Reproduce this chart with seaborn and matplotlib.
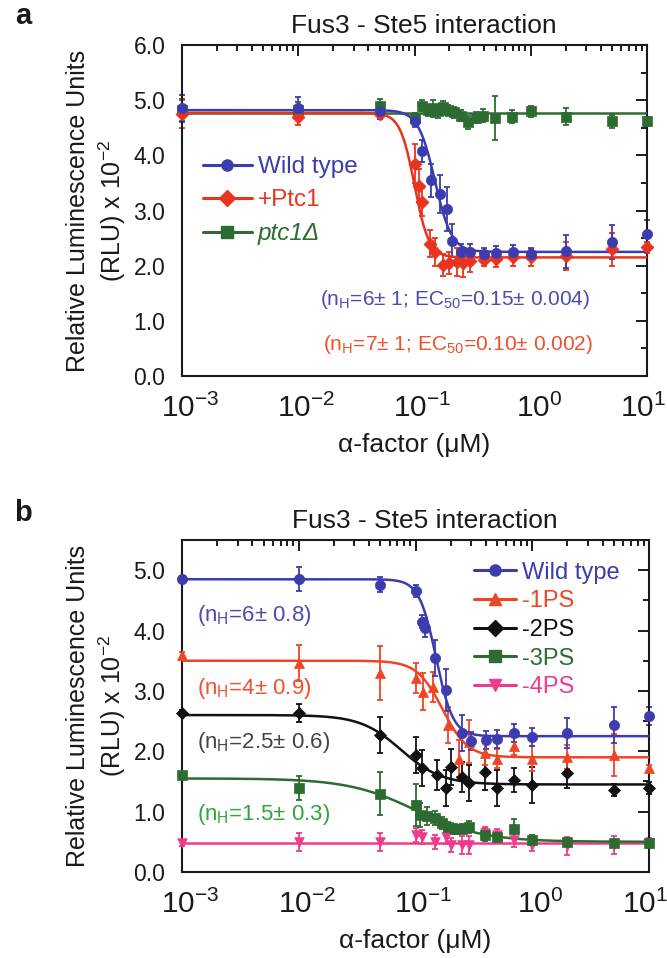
import numpy as np
import pandas as pd
import matplotlib
matplotlib.use("Agg")
import matplotlib.pyplot as plt
import matplotlib.transforms as mtransforms
import seaborn as sns
from matplotlib.lines import Line2D
from matplotlib.ticker import (AutoMinorLocator, LogLocator, NullFormatter,
                               FormatStrFormatter, MultipleLocator)

# ---------------------------------------------------------------- data
# Panel a: Fus3-Ste5 interaction, wild type / +Ptc1 / ptc1 deletion
a_wt_x = [0.001, 0.01, 0.05, 0.1, 0.115, 0.14, 0.165, 0.19, 0.21, 0.25, 0.3,
          0.4, 0.5, 0.7, 1.0, 2.0, 5.0, 10.0]
a_wt_y = [4.85, 4.85, 4.80, 4.62, 4.08, 3.55, 3.30, 3.02, 2.45, 2.25, 2.25,
          2.22, 2.23, 2.25, 2.22, 2.26, 2.43, 2.57]
a_wt_e = [0.25, 0.20, 0.15, 0.10, 0.20, 0.30, 0.35, 0.40, 0.30, 0.15, 0.15,
          0.10, 0.12, 0.12, 0.10, 0.30, 0.30, 0.25]

a_ptc_x = [0.001, 0.01, 0.05, 0.1, 0.11, 0.115, 0.135, 0.15, 0.175, 0.2, 0.23,
           0.26, 0.3, 0.4, 0.5, 0.7, 1.0, 2.0, 5.0, 10.0]
a_ptc_y = [4.75, 4.70, 4.75, 3.85, 3.45, 3.15, 2.40, 2.25, 2.02, 2.05, 2.07,
           2.05, 2.08, 2.10, 2.13, 2.15, 2.15, 2.18, 2.30, 2.33]
a_ptc_e = [0.25, 0.15, 0.10, 0.35, 0.30, 0.25, 0.25, 0.25, 0.20, 0.20, 0.25,
           0.25, 0.20, 0.10, 0.15, 0.15, 0.15, 0.25, 0.30, 0.10]

a_del_x = [0.001, 0.01, 0.05, 0.1, 0.115, 0.13, 0.145, 0.16, 0.175, 0.195,
           0.22, 0.25, 0.29, 0.34, 0.39, 0.49, 0.69, 1.0, 2.0, 5.0, 10.0]
a_del_y = [4.82, 4.82, 4.90, 4.68, 4.90, 4.82, 4.85, 4.80, 4.88, 4.82,
           4.78, 4.72, 4.60, 4.68, 4.72, 4.68, 4.70, 4.80, 4.70, 4.62, 4.62]
a_del_e = [0.20, 0.15, 0.12, 0.08, 0.10, 0.10, 0.15, 0.12, 0.10, 0.10,
           0.10, 0.10, 0.12, 0.10, 0.12, 0.40, 0.12, 0.10, 0.15, 0.12, 0.08]

# Hill fits (top, bottom, EC50, nH)
a_wt_fit = (4.82, 2.25, 0.15, 6)
a_ptc_fit = (4.77, 2.15, 0.10, 7)
a_del_fit = (4.76, 4.76, 0.15, 1)

# Panel b: docking-site phosphosite mutants
b_wt_x = [0.001, 0.01, 0.05, 0.1, 0.113, 0.12, 0.147, 0.182, 0.25, 0.3, 0.4,
          0.5, 0.7, 1.0, 2.0, 5.0, 10.0]
b_wt_y = [4.86, 4.86, 4.76, 4.66, 4.15, 4.05, 3.54, 3.02, 2.30, 2.17, 2.19,
          2.21, 2.30, 2.24, 2.30, 2.44, 2.58]
b_wt_e = [0.05, 0.20, 0.12, 0.10, 0.10, 0.15, 0.30, 0.35, 0.30, 0.15, 0.15,
          0.15, 0.15, 0.15, 0.25, 0.30, 0.15]

b_1ps_x = [0.001, 0.01, 0.05, 0.1, 0.117, 0.142, 0.19, 0.234, 0.29, 0.39,
           0.5, 0.7, 1.0, 2.0, 5.0, 10.0]
b_1ps_y = [3.60, 3.46, 3.30, 3.21, 2.99, 3.07, 2.44, 1.88, 2.16, 1.97,
           1.88, 2.08, 1.88, 1.91, 1.94, 1.72]
b_1ps_e = [0.05, 0.30, 0.45, 0.25, 0.30, 0.25, 0.30, 0.30, 0.35, 0.20,
           0.15, 0.15, 0.20, 0.20, 0.35, 0.05]

b_2ps_x = [0.001, 0.01, 0.05, 0.1, 0.113, 0.152, 0.182, 0.2, 0.25, 0.29,
           0.39, 0.5, 0.7, 1.0, 2.0, 5.0, 10.0]
b_2ps_y = [2.63, 2.63, 2.27, 1.94, 1.72, 1.61, 1.39, 1.74, 1.58, 1.47,
           1.66, 1.39, 1.52, 1.44, 1.64, 1.36, 1.39]
b_2ps_e = [0.05, 0.15, 0.30, 0.30, 0.30, 0.25, 0.30, 0.30, 0.25, 0.30,
           0.30, 0.30, 0.20, 0.30, 0.25, 0.10, 0.10]

b_3ps_x = [0.001, 0.01, 0.05, 0.1, 0.11, 0.125, 0.147, 0.167, 0.19, 0.22,
           0.25, 0.29, 0.39, 0.5, 0.7, 1.0, 2.0, 5.0, 10.0]
b_3ps_y = [1.61, 1.39, 1.30, 1.11, 0.94, 0.92, 0.89, 0.81, 0.75, 0.71,
           0.72, 0.75, 0.62, 0.58, 0.72, 0.53, 0.50, 0.48, 0.48]
b_3ps_e = [0.05, 0.20, 0.35, 0.35, 0.20, 0.15, 0.12, 0.10, 0.08, 0.08,
           0.08, 0.10, 0.10, 0.08, 0.15, 0.08, 0.05, 0.05, 0.05]

b_4ps_x = [0.001, 0.01, 0.05, 0.1, 0.113, 0.147, 0.182, 0.2, 0.25, 0.29,
           0.39, 0.5, 0.7, 1.0, 2.0, 5.0, 10.0]
b_4ps_y = [0.48, 0.49, 0.50, 0.61, 0.58, 0.50, 0.58, 0.45, 0.45, 0.45,
           0.64, 0.62, 0.53, 0.45, 0.43, 0.45, 0.48]
b_4ps_e = [0.05, 0.15, 0.15, 0.12, 0.12, 0.12, 0.12, 0.12, 0.15, 0.15,
           0.10, 0.10, 0.12, 0.10, 0.15, 0.15, 0.08]

b_wt_fit = (4.85, 2.25, 0.15, 6)
b_1ps_fit = (3.50, 1.90, 0.17, 4)
b_2ps_fit = (2.60, 1.45, 0.075, 2.5)
b_3ps_fit = (1.55, 0.50, 0.10, 1.5)
b_4ps_fit = (0.48, 0.48, 0.10, 1)

a_labels = ["Wild type", "+Ptc1", "ptc1\u0394"]
b_labels = ["Wild type", "-1PS", "-2PS", "-3PS", "-4PS"]
a_notes = ["(n$_{\\mathrm{H}}$=6\u00b1 1; EC$_{\\mathrm{50}}$=0.15\u00b1 0.004)",
           "(n$_{\\mathrm{H}}$=7\u00b1 1; EC$_{\\mathrm{50}}$=0.10\u00b1 0.002)"]
b_notes = ["(n$_{\\mathrm{H}}$=6\u00b1 0.8)", "(n$_{\\mathrm{H}}$=4\u00b1 0.9)",
           "(n$_{\\mathrm{H}}$=2.5\u00b1 0.6)", "(n$_{\\mathrm{H}}$=1.5\u00b1 0.3)"]

title = "Fus3 - Ste5 interaction"
xlabel = "\u03b1-factor (\u03bcM)"
ylabel = "Relative Luminescence Units\n(RLU) x 10$^{\\mathrm{-2}}$"

# ---------------------------------------------------------------- style
sns.set_theme(style="white")
plt.rcParams["font.family"] = ["Liberation Sans", "DejaVu Sans"]
plt.rcParams["mathtext.fontset"] = "custom"
plt.rcParams["mathtext.rm"] = "Liberation Sans"
plt.rcParams["mathtext.it"] = "Liberation Sans:italic"
plt.rcParams["mathtext.bf"] = "Liberation Sans:bold"
plt.rcParams["mathtext.default"] = "regular"
plt.rcParams["axes.unicode_minus"] = False

BLUE = "#3c3cae"
RED_A = "#e8331f"
GREEN = "#2c6c30"
RED_B = "#ee4524"
BLACK = "#111111"
PINK = "#ee3b8b"
INK = "#1a1a1a"


def hill(x, top, bottom, ec50, n):
    return bottom + (top - bottom) / (1.0 + (x / ec50) ** n)


def draw_series(ax, x, y, err, fit, color, marker, size):
    ax.errorbar(x, y, yerr=err, fmt="none", ecolor=color, elinewidth=1.3,
                capsize=2.5, capthick=1.3, zorder=2, clip_on=False)
    grid = np.logspace(-3, 1, 500)
    curve = pd.DataFrame({"x": grid, "y": hill(grid, *fit)})
    sns.lineplot(data=curve, x="x", y="y", ax=ax, color=color, lw=1.8,
                 legend=False, zorder=3)
    pts = pd.DataFrame({"x": x, "y": y})
    sns.scatterplot(data=pts, x="x", y="y", ax=ax, color=color, marker=marker,
                    s=size, edgecolor=color, linewidth=0.5, legend=False,
                    zorder=4, clip_on=False)


def style_axes(ax, ymax, ystep_major):
    ax.set_xscale("log")
    ax.set_xlim(1e-3, 1e1)
    ax.set_ylim(0, ymax)
    ax.xaxis.set_major_locator(LogLocator(base=10, numticks=10))
    ax.xaxis.set_minor_locator(LogLocator(base=10, subs=np.arange(2, 10),
                                          numticks=40))
    ax.xaxis.set_minor_formatter(NullFormatter())
    ax.yaxis.set_major_locator(MultipleLocator(ystep_major))
    ax.yaxis.set_minor_locator(AutoMinorLocator(2))
    ax.yaxis.set_major_formatter(FormatStrFormatter("%.1f"))
    ax.tick_params(which="both", direction="in", top=True, right=True,
                   width=1.4, color=INK)
    ax.tick_params(which="major", length=8)
    ax.tick_params(which="minor", length=4)
    ax.tick_params(axis="x", which="major", labelsize=21.5, pad=13,
                   labelcolor=INK)
    ax.tick_params(axis="y", which="major", labelsize=16.5, pad=12,
                   labelcolor=INK)
    for sp in ax.spines.values():
        sp.set_linewidth(1.5)
        sp.set_color(INK)
    ax.set_title(title, fontsize=19, pad=9, color=INK, x=0.52)
    ax.set_xlabel(xlabel, fontsize=19, color=INK, labelpad=7)
    ax.set_ylabel(ylabel, fontsize=18, color=INK, linespacing=1.3,
                  va="center")


def shift_xticklabels(ax, dx_inch, last_dx_inch):
    # centre the "10" of each power label on its tick; keep the label at
    # the right end of the axis inside the figure edge
    xmax = ax.get_xlim()[1]
    for tick in ax.xaxis.get_major_ticks():
        loc = tick.get_loc()
        dx = last_dx_inch if np.isclose(loc, xmax) else dx_inch
        offset = mtransforms.ScaledTranslation(dx, 0, ax.figure.dpi_scale_trans)
        tick.label1.set_transform(tick.label1.get_transform() + offset)


def legend_handles(colors, markers):
    return [Line2D([0], [0], color=c, marker=m, markersize=8, lw=2.2,
                   markeredgecolor=c) for c, m in zip(colors, markers)]


fig = plt.figure(figsize=(6.67, 9.58), dpi=100)

# ---------------------------------------------------------------- panel a
ax_a = fig.add_axes([0.2729, 0.6075, 0.6971, 0.3455])
draw_series(ax_a, a_del_x, a_del_y, a_del_e, a_del_fit, GREEN, "s", 50)
draw_series(ax_a, a_ptc_x, a_ptc_y, a_ptc_e, a_ptc_fit, RED_A, "D", 44)
draw_series(ax_a, a_wt_x, a_wt_y, a_wt_e, a_wt_fit, BLUE, "o", 55)
style_axes(ax_a, 6.0, 1.0)
ax_a.yaxis.set_label_coords(-0.183, 0.5)

a_colors = [BLUE, RED_A, GREEN]
leg_a = ax_a.legend(legend_handles(a_colors, ["o", "D", "s"]), a_labels,
                    loc="center left", bbox_to_anchor=(0.045, 0.53),
                    frameon=False, fontsize=17.5, handlelength=2.0,
                    handletextpad=0.25, labelspacing=0.45, borderpad=0,
                    borderaxespad=0, labelcolor=a_colors)
leg_a.get_texts()[2].set_style("italic")

ax_a.text(0.587, 0.23, a_notes[0], transform=ax_a.transAxes, fontsize=15,
          color="#4b4bb0", ha="center", va="center")
ax_a.text(0.594, 0.094, a_notes[1], transform=ax_a.transAxes, fontsize=15,
          color="#f0502c", ha="center", va="center")

# ---------------------------------------------------------------- panel b
ax_b = fig.add_axes([0.2729, 0.0898, 0.7001, 0.3465])
draw_series(ax_b, b_4ps_x, b_4ps_y, b_4ps_e, b_4ps_fit, PINK, "v", 48)
draw_series(ax_b, b_3ps_x, b_3ps_y, b_3ps_e, b_3ps_fit, GREEN, "s", 46)
draw_series(ax_b, b_2ps_x, b_2ps_y, b_2ps_e, b_2ps_fit, BLACK, "D", 38)
draw_series(ax_b, b_1ps_x, b_1ps_y, b_1ps_e, b_1ps_fit, RED_B, "^", 52)
draw_series(ax_b, b_wt_x, b_wt_y, b_wt_e, b_wt_fit, BLUE, "o", 55)
style_axes(ax_b, 5.5, 1.0)
ax_b.yaxis.set_label_coords(-0.182, 0.5)

b_colors = [BLUE, RED_B, BLACK, GREEN, PINK]
ax_b.legend(legend_handles(b_colors, ["o", "^", "D", "s", "v"]), b_labels,
            loc="center left", bbox_to_anchor=(0.625, 0.729),
            frameon=False, fontsize=17, handlelength=1.8,
            handletextpad=0.25, labelspacing=0.28, borderpad=0,
            borderaxespad=0, labelcolor=b_colors)

note_colors = ["#4b4bb0", "#f0502c", "#444444", "#2fa53a"]
note_y = [0.774, 0.554, 0.389, 0.172]
for txt, c, yy in zip(b_notes, note_colors, note_y):
    ax_b.text(0.032, yy, txt, transform=ax_b.transAxes, fontsize=16,
              color=c, ha="left", va="center")

# panel letters
fig.text(23 / 667, 1 - 16 / 958, "a", fontsize=21, weight="bold", color=INK,
         ha="center", va="center")
fig.text(23 / 667, 1 - 513 / 958, "b", fontsize=21, weight="bold", color=INK,
         ha="center", va="center")

fig.canvas.draw()
shift_xticklabels(ax_a, 0.08, -0.04)
shift_xticklabels(ax_b, 0.08, -0.04)

fig.savefig("out.png", dpi=100)
